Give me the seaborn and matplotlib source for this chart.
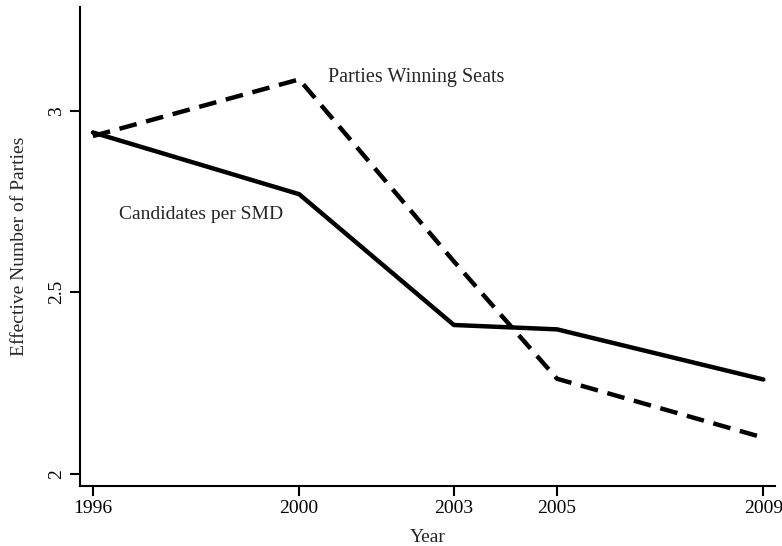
import matplotlib
matplotlib.use("Agg")
import matplotlib.pyplot as plt
import seaborn as sns
import pandas as pd

years = [1996, 2000, 2003, 2005, 2009]
candidates_per_smd = [2.94, 2.77, 2.41, 2.398, 2.26]
parties_winning_seats = [2.93, 3.086, 2.585, 2.262, 2.10]
year_ticks = [1996, 2000, 2003, 2005, 2009]
y_ticks = [2, 2.5, 3]
y_tick_labels = ["2", "2.5", "3"]

sns.set_style("ticks")
plt.rcParams["font.family"] = ["Liberation Serif", "DejaVu Serif"]

df = pd.DataFrame({
    "Year": years * 2,
    "value": candidates_per_smd + parties_winning_seats,
    "series": ["Candidates per SMD"] * len(years) + ["Parties Winning Seats"] * len(years),
})

fig = plt.figure(figsize=(7.82, 5.46), dpi=100)
ax = fig.add_axes([0.1023, 0.110, 0.889, 0.877])

sns.lineplot(data=df, x="Year", y="value", style="series",
             dashes={"Candidates per SMD": "", "Parties Winning Seats": (4, 2.2)},
             color="black", linewidth=3.2, legend=False, ax=ax)

ax.set_xlim(1995.75, 2009.23)
ax.set_ylim(1.967, 3.285)
ax.set_xticks(year_ticks)
ax.set_xticklabels([str(y) for y in year_ticks])
ax.set_yticks(y_ticks)
ax.set_yticklabels(y_tick_labels, rotation=90, va="center")
ax.tick_params(axis="both", length=7, width=1.5, labelsize=14, color="black", labelcolor="black")
ax.tick_params(axis="x", pad=3)
ax.set_xlabel("Year", fontsize=14, labelpad=9)
ax.set_ylabel("Effective Number of Parties", fontsize=14, labelpad=15)
for s in ["left", "bottom"]:
    ax.spines[s].set_linewidth(1.5)
    ax.spines[s].set_color("black")
sns.despine(ax=ax)

ax.text(2000.55, 3.09, "Parties Winning Seats", fontsize=14.5, va="center", ha="left")
ax.text(1996.5, 2.715, "Candidates per SMD", fontsize=14, va="center", ha="left")

fig.savefig("out.png", dpi=100)
